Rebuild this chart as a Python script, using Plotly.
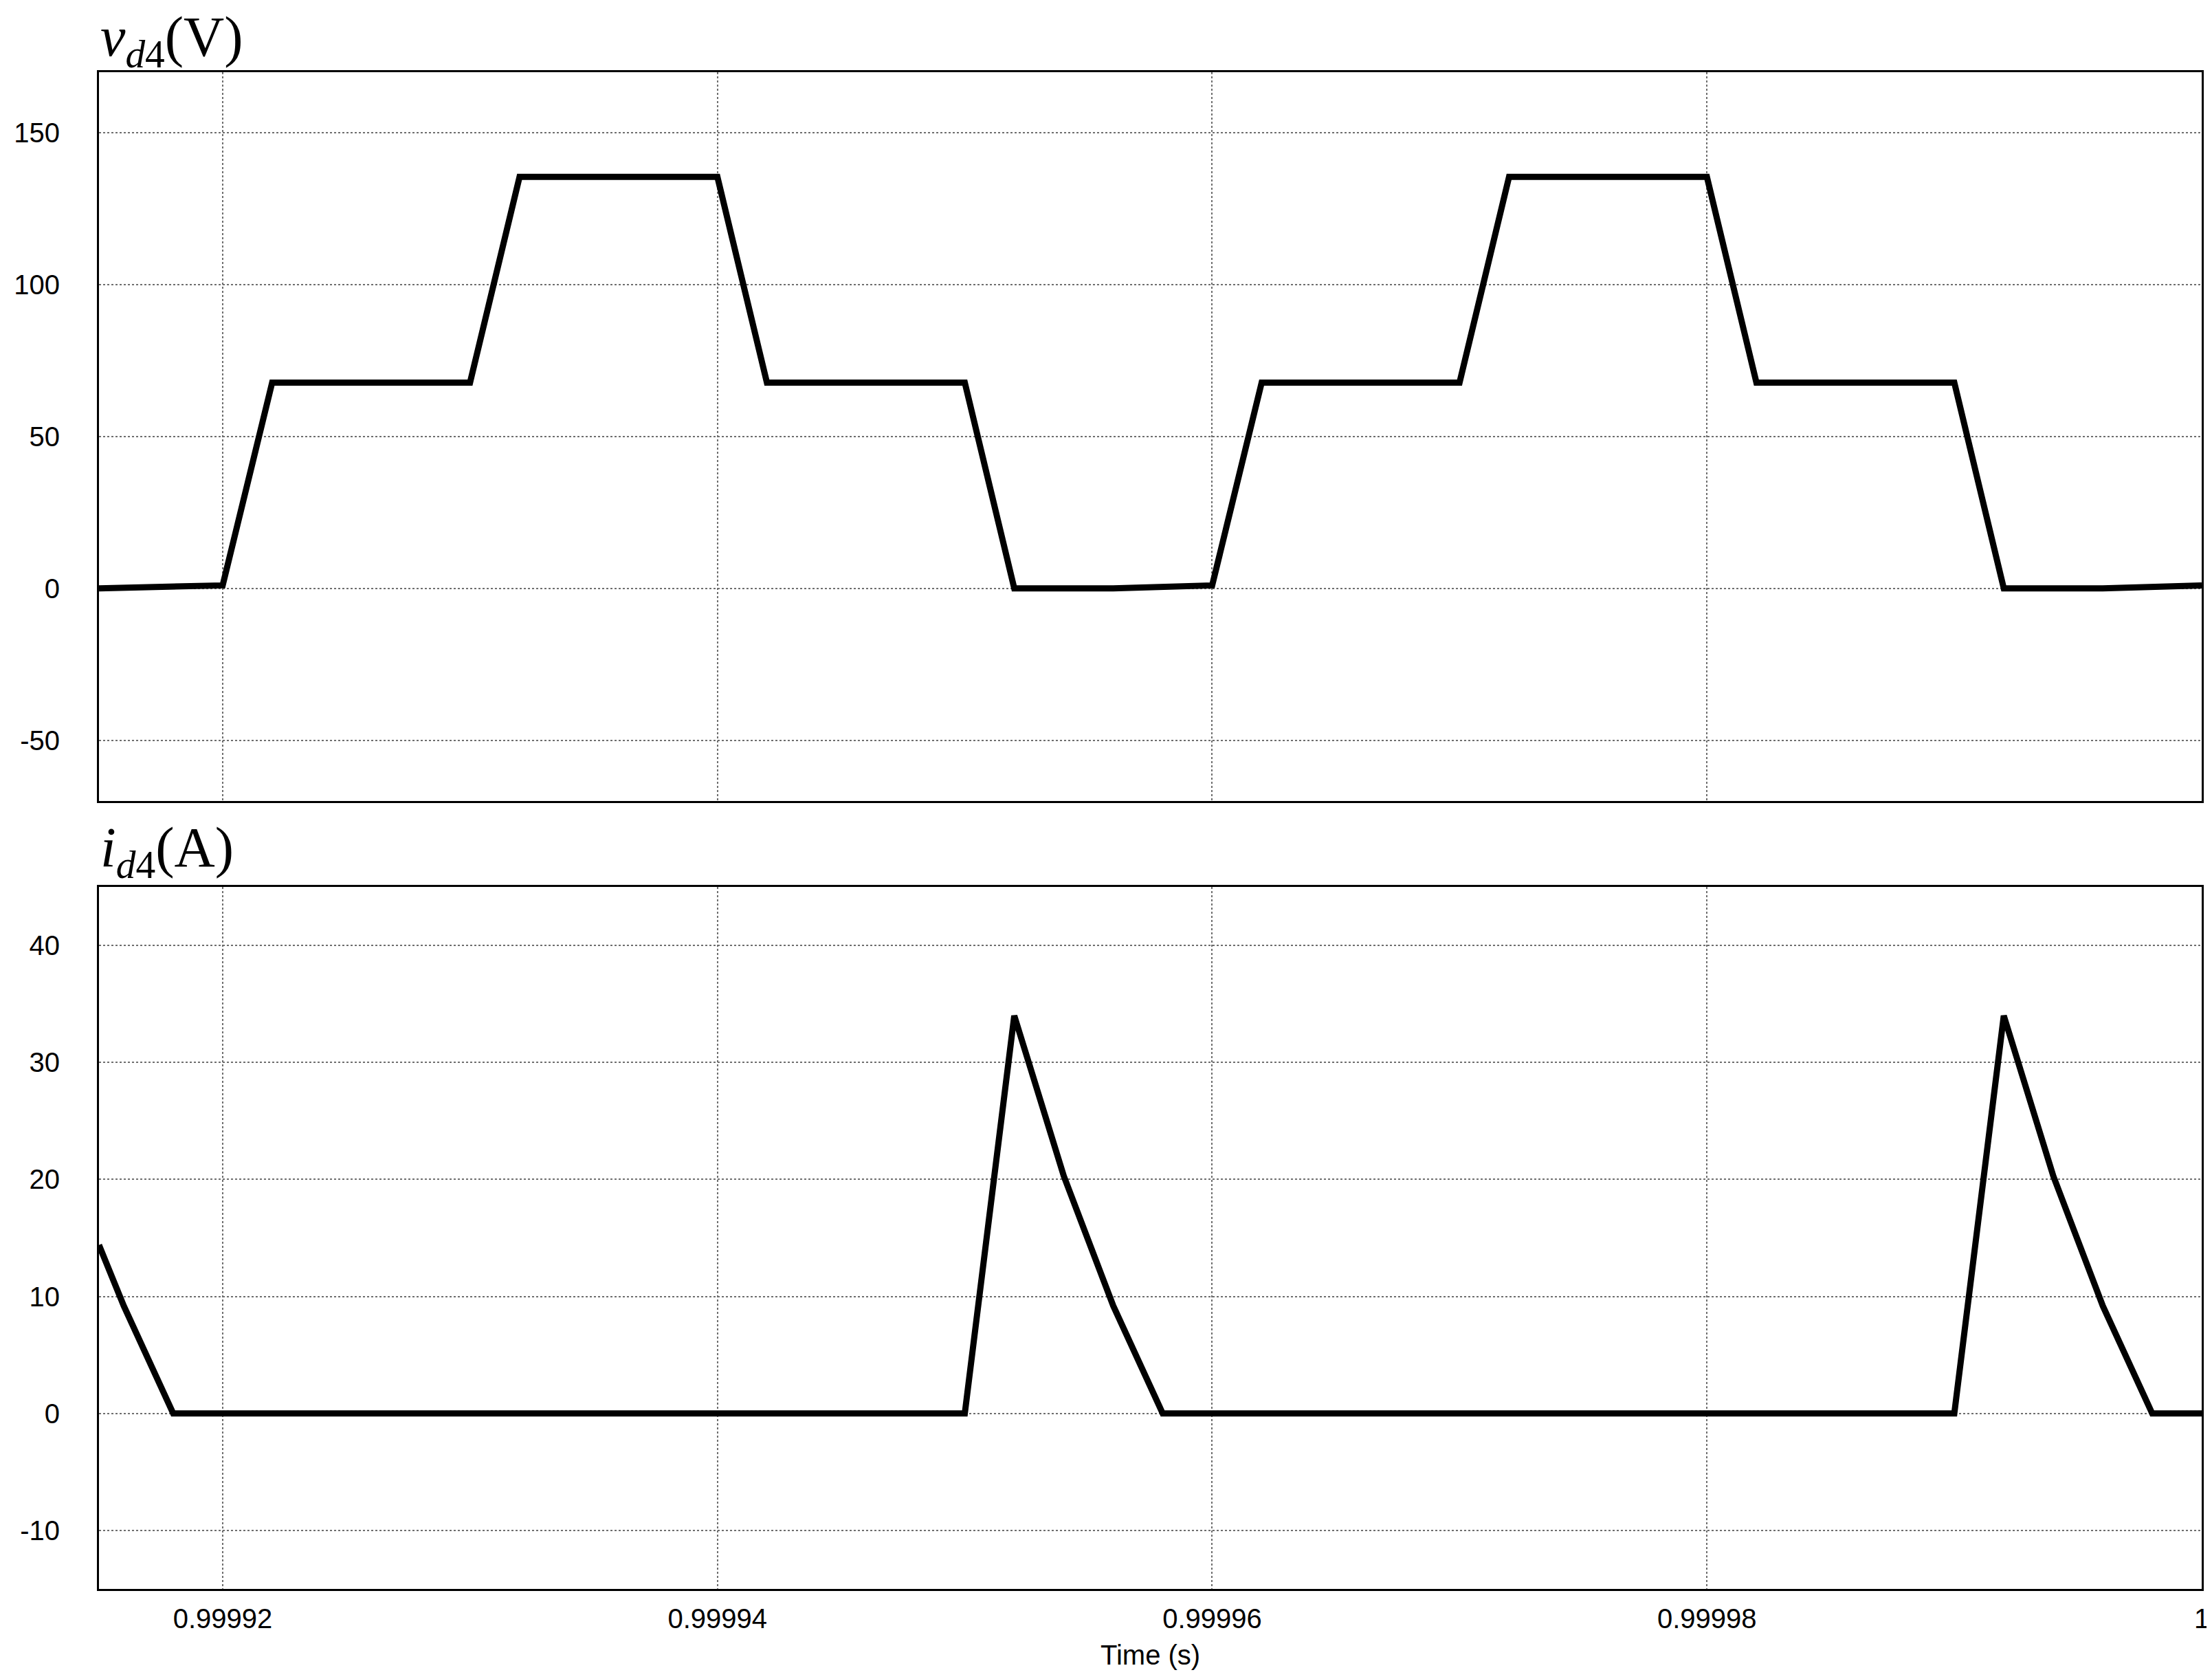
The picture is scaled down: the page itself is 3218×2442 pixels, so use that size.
from plotly.subplots import make_subplots
import plotly.graph_objects as go

##########################################################################################################################################
# data (time in s)
t_v = [0.999915, 0.99992, 0.999922, 0.99993, 0.999932, 0.99994, 0.999942, 0.99995, 0.999952, 0.999956,
       0.99996, 0.999962, 0.99997, 0.999972, 0.99998, 0.999982, 0.99999, 0.999992, 0.999996, 1.0]
v_d4 = [0.0, 1.0, 67.8, 67.8, 135.5, 135.5, 67.8, 67.8, 0.0, 0.0,
        1.0, 67.8, 67.8, 135.5, 135.5, 67.8, 67.8, 0.0, 0.0, 1.0]

t_i = [0.999915, 0.999916, 0.999918, 0.99995, 0.999952, 0.999954, 0.999956, 0.999958,
       0.99999, 0.999992, 0.999994, 0.999996, 0.999998, 1.0]
i_d4 = [14.4, 9.2, 0.0, 0.0, 34.0, 20.3, 9.2, 0.0,
        0.0, 34.0, 20.3, 9.2, 0.0, 0.0]

x_ticks = [0.99992, 0.99994, 0.99996, 0.99998, 1.0]
x_ticktext = ['0.99992', '0.99994', '0.99996', '0.99998', '1']
v_ticks = [-50, 0, 50, 100, 150]
v_ticktext = ['-50', '0', '50', '100', '150']
i_ticks = [-10, 0, 10, 20, 30, 40]
i_ticktext = ['-10', '0', '10', '20', '30', '40']
############################################################################################################################################

fig = make_subplots(rows=2, cols=1, shared_xaxes=False, vertical_spacing=0.0567)

fig.add_trace(go.Scatter(x=t_v, y=v_d4, mode='lines', line=dict(color='black', width=9), showlegend=False), row=1, col=1)
fig.add_trace(go.Scatter(x=t_i, y=i_d4, mode='lines', line=dict(color='black', width=9), showlegend=False), row=2, col=1)

#axes
axis_style = dict(showline=True, mirror=True, linecolor='black', linewidth=3,
                  showgrid=True, gridcolor='#6e6e6e', gridwidth=2, griddash='dot',
                  zeroline=False, ticks='',
                  tickfont=dict(family='Liberation Sans, Arial', size=40, color='black'))

fig.update_xaxes(axis_style, range=[0.999915, 1.0], tickvals=x_ticks, ticktext=x_ticktext)
fig.update_xaxes(showticklabels=False, row=1, col=1)
fig.update_xaxes(ticklabelstandoff=6, row=2, col=1)
fig.update_yaxes(axis_style, ticklabelstandoff=46)
fig.update_yaxes(range=[-70, 170], tickvals=v_ticks, ticktext=v_ticktext, row=1, col=1)
fig.update_yaxes(range=[-15, 45], tickvals=i_ticks, ticktext=i_ticktext, row=2, col=1)

fig.update_layout(xaxis=dict(domain=[0, 1]), yaxis=dict(domain=[0.5195, 1.0]),
                  xaxis2=dict(domain=[0, 1]), yaxis2=dict(domain=[0.0, 0.4628]))

#labels
label_font = dict(family='Liberation Serif, Times New Roman', size=82, color='black')
fig.add_annotation(text='<i>v</i><sub><i>d</i>4</sub>(V)', xref='paper', yref='paper', x=0, y=1.0,
                   xanchor='left', yanchor='middle', xshift=0, yshift=46, showarrow=False, font=label_font)
fig.add_annotation(text='<i>i</i><sub><i>d</i>4</sub>(A)', xref='paper', yref='paper', x=0, y=0.4628,
                   xanchor='left', yanchor='middle', xshift=0, yshift=52, showarrow=False, font=label_font)
fig.add_annotation(text='Time (s)', xref='paper', yref='paper', x=0.5, y=0, xanchor='center', yanchor='middle',
                   yshift=-96, showarrow=False, font=dict(family='Liberation Sans, Arial', size=40, color='black'))

fig.update_layout(width=3218, height=2442, margin=dict(l=136, r=23, t=97, b=139),
                  plot_bgcolor='white', paper_bgcolor='white')

fig.write_html("out.html")
